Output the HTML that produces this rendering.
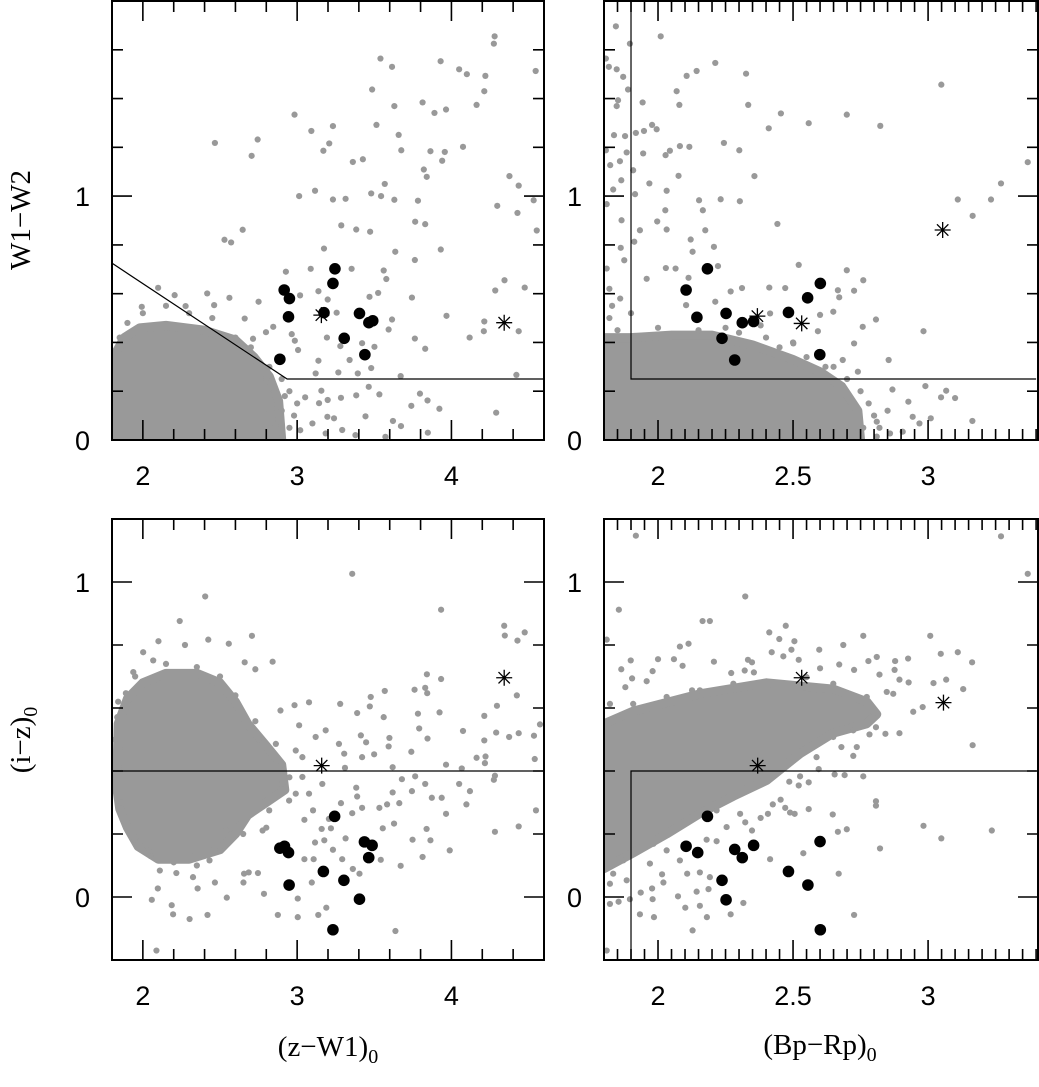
<!DOCTYPE html>
<html><head><meta charset="utf-8">
<style>
html,body{margin:0;padding:0;background:#fff;}
svg{display:block;font-family:"Liberation Sans",sans-serif;}
</style></head>
<body>
<svg id="fig" width="1039" height="1087" viewBox="0 0 1039 1087" xmlns="http://www.w3.org/2000/svg"></svg>
<script>
// ---------- DATA ----------
// top-left: (z-W1)0 vs W1-W2
const tlCore = [[1.8,0],[1.8,0.33],[1.88,0.42],[1.98,0.46],[2.15,0.47],[2.4,0.45],[2.6,0.41],[2.72,0.34],[2.82,0.26],[2.88,0.16],[2.9,0]];
const tlGray = [[4.28,1.655],[4.275,1.625],[3.54,1.564],[3.615,1.53],[3.93,1.553],[4.05,1.52],[4.10,1.50],[4.22,1.493],[4.546,1.513],[3.486,1.437],[3.813,1.384],[4.163,1.374],[4.213,1.43],[3.63,1.369],[3.89,1.341],[3.965,1.355],[2.983,1.334],[3.092,1.267],[3.232,1.287],[3.514,1.292],[3.658,1.251],[2.467,1.218],[2.744,1.232],[2.705,1.165],[3.208,1.216],[3.17,1.186],[3.675,1.188],[3.864,1.184],[3.957,1.181],[4.075,1.202],[3.94,1.145],[3.361,1.14],[3.426,1.151],[3.821,1.109],[3.84,1.079],[4.376,1.082],[4.436,1.043],[3.013,1.0],[3.116,1.022],[3.232,0.986],[3.314,0.989],[3.48,1.011],[3.544,1.0],[3.568,1.05],[3.63,0.985],[3.783,0.981],[4.533,0.983],[4.297,0.96],[4.428,0.931],[3.286,0.88],[3.383,0.863],[3.473,0.854],[3.765,0.895],[3.83,0.885],[4.553,0.859],[2.647,0.862],[2.529,0.821],[2.572,0.81],[3.174,0.785],[3.636,0.772],[3.931,0.781],[3.763,0.738],[2.927,0.69],[3.088,0.702],[3.353,0.702],[3.561,0.695],[3.578,0.66],[4.344,0.655],[4.284,0.613],[4.475,0.625],[2.099,0.624],[2.206,0.594],[2.417,0.601],[2.561,0.583],[2.75,0.567],[2.462,0.553],[3.019,0.593],[3.138,0.61],[3.198,0.576],[3.469,0.587],[3.525,0.603],[3.744,0.584],[1.993,0.546],[2.277,0.549],[2.66,0.498],[3.256,0.522],[3.615,0.494],[3.968,0.509],[4.213,0.486],[4.21,0.446],[4.436,0.446],[2.798,0.442],[2.845,0.464],[2.965,0.434],[2.714,0.415],[2.985,0.407],[3.193,0.42],[3.593,0.453],[3.763,0.416],[3.83,0.374],[4.118,0.42],[3.421,0.397],[3.501,0.382],[3.28,0.385],[3.006,0.369],[3.138,0.325],[3.34,0.328],[3.48,0.295],[3.12,0.273],[3.267,0.277],[3.393,0.273],[3.671,0.262],[4.421,0.267],[3.464,0.218],[3.533,0.187],[3.796,0.19],[3.845,0.162],[3.922,0.128],[4.29,0.112],[3.74,0.14],[3.157,0.202],[3.284,0.173],[3.383,0.183],[3.052,0.175],[3.142,0.151],[3.198,0.164],[3.443,0.097],[3.196,0.095],[3.239,0.089],[3.621,0.078],[3.673,0.057],[3.847,0.03],[3.099,0.068],[3.572,0.013],[3.378,0.02],[3.185,0.027],[3.292,0.041],[2.85,0.2],[2.9,0.12],[2.95,0.05],[2.88,0.03],[3.0,0.15],[2.82,0.3],[2.9,0.25],[2.7,0.38],[2.6,0.42],[2.45,0.5],[2.3,0.52],[2.0,0.52],[1.9,0.48],[1.85,0.42],[2.15,0.55],[2.98,0.1],[3.02,0.04],[2.95,0.2],[2.82,0.12],[2.86,0.06],[2.92,0.18],[2.8,0.25]];
const tlBlack = [[2.916,0.615],[2.95,0.58],[2.944,0.505],[2.888,0.331],[3.245,0.702],[3.232,0.642],[3.174,0.522],[3.404,0.519],[3.465,0.481],[3.49,0.489],[3.305,0.417],[3.439,0.35]];
const tlStars = [[3.157,0.512],[4.342,0.481]];
const tlCut = [[1.8,0.725],[2.935,0.25],[4.6,0.25]];

// top-right: (Bp-Rp)0 vs W1-W2
const trCore = [[1.8,0],[1.8,0.42],[1.9,0.42],[2.05,0.43],[2.2,0.43],[2.35,0.39],[2.5,0.33],[2.6,0.28],[2.68,0.22],[2.74,0.12],[2.75,0]];
const trGray = [[1.844,1.696],[2.01,1.655],[1.896,1.625],[1.807,1.564],[1.818,1.53],[1.847,1.52],[1.871,1.489],[2.212,1.546],[2.143,1.513],[2.106,1.493],[2.326,1.502],[3.049,1.457],[1.889,1.437],[2.069,1.43],[1.943,1.384],[1.852,1.393],[1.847,1.369],[2.079,1.374],[2.334,1.374],[2.455,1.339],[2.558,1.299],[2.699,1.334],[2.823,1.288],[2.41,1.278],[1.978,1.292],[1.995,1.274],[1.948,1.267],[1.837,1.25],[1.878,1.246],[1.918,1.259],[2.244,1.218],[2.301,1.188],[2.081,1.205],[2.116,1.202],[2.044,1.186],[2.028,1.168],[1.945,1.175],[1.807,1.188],[1.859,1.143],[1.884,1.179],[3.369,1.139],[1.823,1.127],[1.908,1.106],[2.076,1.083],[2.357,1.082],[1.864,1.065],[1.968,1.052],[3.27,1.052],[1.834,1.027],[2.032,1.022],[1.915,1.008],[2.152,0.983],[2.232,0.987],[2.303,0.979],[3.11,0.986],[3.233,0.986],[3.165,0.919],[1.81,0.967],[2.027,0.942],[2.166,0.942],[1.865,0.901],[1.997,0.896],[2.442,0.886],[1.933,0.86],[2.032,0.863],[2.175,0.86],[1.912,0.813],[2.121,0.822],[2.207,0.792],[1.862,0.788],[2.128,0.772],[1.875,0.737],[2.521,0.718],[1.81,0.703],[2.029,0.705],[2.065,0.703],[2.222,0.713],[2.699,0.696],[2.113,0.665],[1.958,0.661],[2.76,0.655],[2.269,0.609],[2.311,0.623],[2.412,0.625],[2.471,0.623],[2.666,0.614],[2.726,0.612],[2.671,0.585],[2.212,0.567],[2.104,0.553],[2.415,0.519],[2.6,0.513],[2.649,0.526],[2.807,0.494],[2.758,0.464],[2.983,0.446],[2.592,0.446],[2.501,0.396],[2.726,0.396],[2.854,0.328],[2.684,0.328],[2.99,0.221],[3.067,0.202],[3.048,0.175],[3.1,0.172],[3.164,0.078],[3.01,0.089],[2.927,0.157],[2.868,0.207],[2.943,0.095],[2.968,0.068],[2.906,0.034],[2.81,0.075],[2.859,0.027],[2.81,0.014],[2.75,0.2],[2.78,0.15],[2.8,0.1],[2.76,0.05],[2.7,0.25],[2.62,0.3],[2.45,0.38],[2.3,0.44],[2.15,0.45],[2.0,0.46],[1.85,0.45],[1.82,0.5],[2.4,0.42],[2.55,0.34],[2.82,0.05],[2.85,0.12],[1.83,0.55],[1.9,0.52],[1.82,0.62],[1.86,0.58],[2.25,0.46],[2.38,0.47],[2.5,0.4],[2.65,0.3],[2.74,0.28]];
const trBlack = [[2.183,0.702],[2.104,0.615],[2.144,0.503],[2.252,0.519],[2.312,0.481],[2.354,0.486],[2.237,0.417],[2.284,0.328],[2.483,0.523],[2.554,0.583],[2.601,0.642],[2.599,0.35]];
const trStars = [[2.368,0.508],[2.532,0.478],[3.054,0.861]];
const trCut = [[1.9,1.8],[1.9,0.25],[3.4,0.25]];

// bottom-left: (z-W1)0 vs (i-z)0
const blCore = [[1.83,0.35],[1.84,0.55],[1.9,0.63],[2.0,0.68],[2.15,0.71],[2.35,0.71],[2.5,0.68],[2.6,0.62],[2.68,0.55],[2.8,0.48],[2.9,0.42],[2.92,0.34],[2.8,0.3],[2.68,0.26],[2.6,0.2],[2.5,0.15],[2.3,0.12],[2.1,0.12],[1.97,0.16],[1.9,0.22],[1.85,0.28]];
const blGray = [[3.357,1.026],[2.404,0.954],[2.239,0.876],[3.933,0.912],[2.707,0.829],[2.101,0.812],[4.342,0.861],[4.346,0.83],[4.475,0.84],[4.428,0.814],[2.002,0.777],[2.841,0.747],[2.729,0.723],[3.841,0.707],[3.933,0.692],[3.568,0.654],[3.761,0.658],[3.83,0.664],[3.843,0.647],[4.424,0.64],[3.477,0.635],[3.077,0.618],[2.983,0.609],[3.279,0.613],[3.471,0.605],[3.389,0.584],[3.923,0.586],[4.295,0.607],[4.213,0.575],[4.574,0.548],[3.783,0.582],[3.561,0.571],[3.791,0.535],[4.075,0.527],[4.29,0.522],[4.374,0.508],[4.436,0.52],[4.535,0.512],[3.845,0.503],[3.598,0.505],[3.185,0.529],[3.013,0.545],[3.413,0.513],[3.447,0.491],[3.271,0.486],[3.593,0.478],[4.213,0.497],[3.74,0.461],[3.305,0.455],[3.499,0.453],[4.163,0.442],[4.221,0.446],[4.217,0.425],[4.54,0.438],[3.421,0.444],[3.619,0.412],[3.965,0.42],[4.067,0.408],[3.31,0.41],[3.034,0.444],[4.282,0.385],[4.275,0.372],[3.765,0.383],[3.679,0.374],[3.83,0.359],[4.05,0.359],[4.12,0.336],[3.389,0.319],[3.383,0.347],[3.744,0.336],[3.619,0.332],[3.873,0.315],[3.937,0.315],[4.097,0.294],[3.662,0.298],[3.583,0.294],[3.533,0.283],[3.421,0.283],[3.284,0.298],[3.103,0.275],[3.047,0.245],[3.206,0.248],[4.548,0.275],[3.965,0.264],[3.357,0.266],[3.628,0.233],[3.555,0.218],[3.159,0.216],[3.219,0.218],[3.839,0.216],[4.282,0.207],[4.436,0.224],[3.314,0.186],[3.176,0.18],[3.116,0.173],[3.748,0.182],[3.864,0.18],[3.989,0.148],[3.813,0.127],[3.671,0.099],[3.542,0.118],[3.292,0.12],[3.107,0.12],[3.047,0.12],[3.232,0.15],[3.361,0.089],[3.404,0.074],[3.095,0.046],[3.004,-0.005],[3.189,-0.034],[3.137,-0.057],[3.004,-0.064],[2.875,-0.057],[3.637,-0.108],[2.088,-0.17],[2.303,-0.07],[2.196,-0.055],[2.419,-0.057],[2.058,-0.009],[2.187,-0.026],[2.544,-0.002],[2.785,0.01],[2.652,0.046],[2.746,0.076],[2.686,0.078],[2.656,0.074],[2.467,0.046],[2.355,0.027],[2.097,0.027],[2.217,0.076],[1.946,0.182],[1.884,0.298],[1.813,0.423],[1.834,0.571],[1.89,0.647],[1.938,0.714],[2.067,0.751],[2.273,0.8],[2.424,0.817],[2.557,0.804],[2.66,0.745],[2.729,0.558],[2.892,0.592],[2.776,0.211],[2.54,0.211],[2.432,0.116],[2.002,0.148],[2.11,0.084],[2.325,0.063],[2.905,0.359],[2.991,0.328],[3.077,0.328],[2.948,0.306],[2.819,0.275],[2.862,0.486],[2.991,0.465],[3.12,0.508],[3.034,0.381],[3.163,0.359],[1.95,0.7],[2.15,0.74],[2.35,0.73],[2.5,0.7],[2.6,0.64],[2.75,0.5],[2.9,0.42],[2.95,0.38],[2.8,0.22],[2.65,0.2],[2.5,0.15],[2.35,0.1],[2.2,0.11],[2.05,0.13],[1.93,0.22],[1.86,0.3],[1.82,0.5],[1.84,0.62]];
const blBlack = [[3.243,0.256],[2.888,0.155],[2.918,0.161],[2.944,0.141],[2.948,0.038],[3.17,0.081],[3.303,0.053],[3.436,0.175],[3.486,0.164],[3.464,0.125],[3.404,-0.007],[3.232,-0.104]];
const blStars = [[3.159,0.417],[4.342,0.696]];
const blCut = [[1.8,0.4],[4.6,0.4]];

// bottom-right: (Bp-Rp)0 vs (i-z)0
const brCore = [[1.8,0.55],[1.908,0.59],[2.155,0.645],[2.402,0.68],[2.526,0.67],[2.649,0.66],[2.773,0.62],[2.81,0.58],[2.773,0.55],[2.649,0.52],[2.526,0.455],[2.402,0.37],[2.279,0.32],[2.155,0.265],[2.032,0.2],[1.908,0.14],[1.8,0.09]];
const brGray = [[1.918,1.147],[3.27,1.145],[3.369,1.026],[1.855,0.912],[2.323,0.954],[2.165,0.876],[2.192,0.876],[2.473,0.861],[2.412,0.84],[2.449,0.819],[2.505,0.812],[2.081,0.795],[2.113,0.804],[1.81,0.817],[2.76,0.829],[3.008,0.829],[2.686,0.8],[2.494,0.785],[2.597,0.785],[2.421,0.777],[3.047,0.772],[3.11,0.777],[3.163,0.745],[2.464,0.764],[2.521,0.753],[2.059,0.755],[2.091,0.734],[2.0,0.755],[1.899,0.751],[2.207,0.747],[2.333,0.753],[2.348,0.745],[2.81,0.762],[2.779,0.749],[2.926,0.757],[2.878,0.749],[2.671,0.738],[2.726,0.721],[1.864,0.723],[1.98,0.717],[2.321,0.719],[2.355,0.713],[2.271,0.711],[2.6,0.726],[2.876,0.721],[2.82,0.706],[3.067,0.69],[3.02,0.679],[3.13,0.66],[2.928,0.681],[2.894,0.69],[1.958,0.685],[1.904,0.694],[1.879,0.666],[2.126,0.656],[2.847,0.651],[2.871,0.645],[2.98,0.603],[2.945,0.588],[2.894,0.52],[2.807,0.539],[2.783,0.516],[2.842,0.518],[3.165,0.482],[2.736,0.476],[2.679,0.476],[2.723,0.448],[2.76,0.383],[2.691,0.387],[2.654,0.389],[2.595,0.406],[2.526,0.383],[2.486,0.366],[2.558,0.364],[2.521,0.354],[2.807,0.304],[2.807,0.29],[2.558,0.279],[2.454,0.309],[2.425,0.294],[2.471,0.283],[2.489,0.268],[2.506,0.264],[2.38,0.251],[2.407,0.264],[2.647,0.262],[2.348,0.211],[2.323,0.237],[2.983,0.226],[3.236,0.211],[3.049,0.186],[2.699,0.215],[2.666,0.207],[2.538,0.139],[2.822,0.154],[2.415,0.12],[2.669,0.074],[2.316,-0.019],[2.269,-0.055],[2.726,-0.057],[2.128,-0.106],[2.181,-0.064],[2.101,-0.034],[2.155,-0.028],[2.074,0.002],[2.143,0.017],[1.98,-0.007],[1.933,-0.055],[1.985,-0.064],[1.822,-0.022],[1.854,-0.015],[1.896,-0.007],[1.81,-0.17],[1.978,0.027],[1.936,0.014],[2.02,0.046],[2.015,0.072],[2.108,0.074],[2.192,0.063],[2.187,0.025],[2.155,0.078],[2.081,0.116],[2.032,0.148],[2.217,0.177],[2.18,0.182],[1.983,0.169],[1.834,0.074],[1.884,0.053],[1.822,0.042],[1.871,0.116],[1.97,0.106],[2.254,0.222],[2.304,0.264],[2.217,0.275],[2.587,0.444],[2.649,0.508],[2.723,0.529],[2.797,0.571],[2.773,0.635],[2.649,0.677],[2.55,0.698],[2.279,0.677],[2.155,0.656],[2.032,0.635],[1.908,0.613],[1.822,0.613],[1.859,0.571]];
const brBlack = [[2.183,0.256],[2.104,0.161],[2.147,0.141],[2.284,0.151],[2.312,0.125],[2.354,0.164],[2.237,0.053],[2.252,-0.009],[2.483,0.081],[2.555,0.038],[2.6,0.176],[2.601,-0.104]];
const brStars = [[2.369,0.417],[2.532,0.696],[3.057,0.617]];
const brCut = [[1.9,-0.2],[1.9,0.4],[3.4,0.4]];

// tick label arrays
const zw1Ticks = [2,3,4];
const bprpTicks = ["2","2.5","3"];
const w12Ticks = [0,1];
const izTicks = [0,1];

// ---------- DRAW ----------
const NS = "http://www.w3.org/2000/svg";
const svg = document.getElementById('fig');
function mk(tag, attrs, parent){
  const e = document.createElementNS(NS, tag);
  for (const k in attrs) e.setAttribute(k, attrs[k]);
  (parent||svg).appendChild(e);
  return e;
}
function panel(p){
  const g = mk('g', {});
  
  
  const sx = v => p.x0 + (v - p.xmin) / (p.xmax - p.xmin) * (p.x1 - p.x0);
  const sy = v => p.y1 - (v - p.ymin) / (p.ymax - p.ymin) * (p.y1 - p.y0);
  const clipId = p.name + '-clip';
  const cp = mk('clipPath', {id: clipId}, g);
  mk('rect', {x:p.x0, y:p.y0, width:p.x1-p.x0, height:p.y1-p.y0}, cp);
  const plot = mk('g', {'clip-path':'url(#'+clipId+')'}, g);
  const core = mk('polygon', {points: p.core.map(d => sx(d[0])+','+sy(d[1])).join(' '), fill:'#999', stroke:'#999', 'stroke-width':9, 'stroke-linejoin':'round'}, plot);
  
  
  p.gray.forEach(d => {
    const c = mk('circle', {cx:sx(d[0]), cy:sy(d[1]), r:3.1, fill:'#999'}, plot);
    
    
  });
  const cl = mk('polyline', {points: p.cut.map(d => sx(d[0])+','+sy(d[1])).join(' '), fill:'none', stroke:'#000', 'stroke-width':1.2}, plot);
  
  
  p.black.forEach(d => {
    const c = mk('circle', {cx:sx(d[0]), cy:sy(d[1]), r:5.8, fill:'#000'}, plot);
    
    
  });
  p.stars.forEach(d => {
    const cx = sx(d[0]), cy = sy(d[1]), r = 8, q = 5.7;
    const s = mk('path', {d:`M${cx-r},${cy}H${cx+r}M${cx},${cy-r}V${cy+r}M${cx-q},${cy-q}L${cx+q},${cy+q}M${cx-q},${cy+q}L${cx+q},${cy-q}`, stroke:'#000', 'stroke-width':1.3, fill:'none'}, plot);
    
    
  });
  let t = '';
  p.xminor.forEach(v => {
    const x = sx(v), L = p.xmajor.includes(+v.toFixed(3)) ? 20 : 11;
    t += `M${x},${p.y1}v${-L}M${x},${p.y0}v${L}`;
  });
  p.yminor.forEach(v => {
    const y = sy(v), L = p.ymajor.includes(+v.toFixed(3)) ? 20 : 11;
    t += `M${p.x0},${y}h${L}M${p.x1},${y}h${-L}`;
  });
  const tk = mk('path', {d:t, stroke:'#000', 'stroke-width':1.6, fill:'none'}, g);
  
  
  const fr = mk('rect', {x:p.x0, y:p.y0, width:p.x1-p.x0, height:p.y1-p.y0, fill:'none', stroke:'#000', 'stroke-width':2}, g);
  
  
  p.xlabels.forEach(l => {
    const tx = mk('text', {x:sx(parseFloat(l)), y:p.y1+45, 'text-anchor':'middle', 'font-size':27}, g);
    tx.textContent = l;
    
    
  });
  p.ylabels.forEach(l => {
    const tx = mk('text', {x:p.x0-22, y:sy(l)+10, 'text-anchor':'end', 'font-size':27}, g);
    tx.textContent = l;
    
    
  });
}
function range(a,b,s){const r=[];for(let v=a;v<=b+1e-9;v+=s)r.push(+v.toFixed(3));return r;}

const leftX = {x0:112, x1:544, xmin:1.8, xmax:4.6, xminor:range(1.8,4.6,0.2), xmajor:[2,3,4]};
const rightX = {x0:604, x1:1038, xmin:1.8, xmax:3.407, xminor:range(1.8,3.4,0.05), xmajor:[2,2.5,3]};
const topY = {y0:1, y1:440, ymin:0, ymax:1.8, yminor:range(0,1.8,0.2), ymajor:[0,1]};
const botY = {y0:519, y1:960, ymin:-0.2, ymax:1.2, yminor:range(-0.2,1.2,0.2), ymajor:[0,1]};

panel(Object.assign({name:'panel-zw1-w1w2', core:tlCore, gray:tlGray, black:tlBlack, stars:tlStars, cut:tlCut, xlabels:zw1Ticks.map(String), ylabels:w12Ticks}, leftX, topY));
panel(Object.assign({name:'panel-bprp-w1w2', core:trCore, gray:trGray, black:trBlack, stars:trStars, cut:trCut, xlabels:bprpTicks, ylabels:w12Ticks}, rightX, topY));
panel(Object.assign({name:'panel-zw1-iz', core:blCore, gray:blGray, black:blBlack, stars:blStars, cut:blCut, xlabels:zw1Ticks.map(String), ylabels:izTicks}, leftX, botY));
panel(Object.assign({name:'panel-bprp-iz', core:brCore, gray:brGray, black:brBlack, stars:brStars, cut:brCut, xlabels:bprpTicks, ylabels:izTicks}, rightX, botY));

function title(txt, sub, x, y, rot, name){
  const tx = mk('text', {x:x, y:y, 'text-anchor':'middle', 'font-size':29, 'font-family':'"Liberation Serif", serif'});
  if (rot) tx.setAttribute('transform', `rotate(-90 ${x} ${y})`);
  tx.appendChild(document.createTextNode(txt));
  if (sub){
    const ts = mk('tspan', {'font-size':20, dy:7}, tx);
    ts.textContent = sub;
  }
  
  
}
title('(z\u2212W1)', '0', 328, 1056, false, 'x-axis-title-left');
title('(Bp\u2212Rp)', '0', 820, 1054, false, 'x-axis-title-right');
title('W1\u2212W2', '', 30, 220, true, 'y-axis-title-top');
title('(i\u2212z)', '0', 30, 740, true, 'y-axis-title-bottom');
</script>
</body></html>
